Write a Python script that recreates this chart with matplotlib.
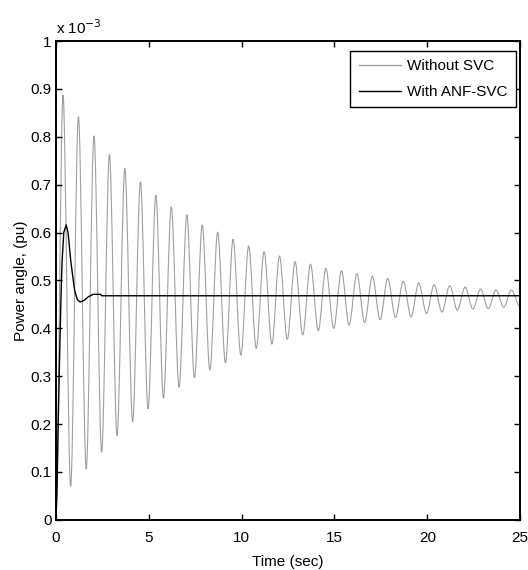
import matplotlib
matplotlib.use("Agg")
import matplotlib.pyplot as plt
from matplotlib.path import Path
from matplotlib.patches import PathPatch

plt.rcParams['font.family'] = ['Liberation Sans', 'DejaVu Sans']

# values, in units of 1e-3 pu
peak_t = [0.38, 1.21, 2.05, 2.88, 3.71, 4.55, 5.38, 6.21, 7.05, 7.88,
          8.71, 9.54, 10.38, 11.21, 12.04, 12.88, 13.71, 14.54, 15.38, 16.21,
          17.04, 17.87, 18.71, 19.54, 20.37, 21.21, 22.04, 22.87, 23.70, 24.53]
peak_v = [0.887, 0.842, 0.802, 0.763, 0.734, 0.706, 0.678, 0.654, 0.637, 0.616,
          0.601, 0.586, 0.572, 0.560, 0.551, 0.539, 0.534, 0.525, 0.520, 0.514,
          0.509, 0.504, 0.498, 0.495, 0.491, 0.489, 0.486, 0.482, 0.480, 0.480]
trough_t = [0.79, 1.63, 2.46, 3.29, 4.13, 4.96, 5.79, 6.63, 7.46, 8.29,
            9.13, 9.96, 10.79, 11.63, 12.46, 13.29, 14.13, 14.96, 15.79, 16.63,
            17.46, 18.29, 19.13, 19.96, 20.79, 21.62, 22.46, 23.29, 24.12]
trough_v = [0.070, 0.106, 0.141, 0.176, 0.205, 0.232, 0.254, 0.277, 0.297, 0.313,
            0.328, 0.344, 0.358, 0.367, 0.377, 0.386, 0.395, 0.400, 0.407, 0.412,
            0.418, 0.423, 0.424, 0.431, 0.434, 0.438, 0.440, 0.441, 0.444]
start_t, start_v = 0.0, 0.03
end_t, end_v = 25.0, 0.445

anf_t = [0.0, 0.05, 0.12, 0.2, 0.28, 0.33, 0.42, 0.55, 0.65, 0.8, 1.0, 1.15,
         1.3, 1.5, 1.75, 2.0, 2.4, 2.46, 25.0]
anf_v = [0.0, 0.05, 0.2, 0.35, 0.48, 0.54, 0.6, 0.616, 0.6, 0.54, 0.48, 0.46,
         0.455, 0.458, 0.466, 0.471, 0.471, 0.468, 0.468]

# gray series: start, then alternate peaks and troughs, then end point
no_svc_t = [start_t]
no_svc_v = [start_v]
for i in range(len(peak_t)):
    no_svc_t.append(peak_t[i])
    no_svc_v.append(peak_v[i])
    if i < len(trough_t):
        no_svc_t.append(trough_t[i])
        no_svc_v.append(trough_v[i])
no_svc_t.append(end_t)
no_svc_v.append(end_v)

# smooth swing between extremes (flat tangent at each peak / trough)
verts = [(no_svc_t[0], no_svc_v[0])]
codes = [Path.MOVETO]
for i in range(1, len(no_svc_t)):
    t0, v0 = no_svc_t[i - 1], no_svc_v[i - 1]
    t1, v1 = no_svc_t[i], no_svc_v[i]
    dt = (t1 - t0) / 3
    verts += [(t0 + dt, v0), (t1 - dt, v1), (t1, v1)]
    codes += [Path.CURVE4] * 3

fig = plt.figure(figsize=(5.28, 5.70), dpi=100)
ax = fig.add_axes([0.106, 0.088, 0.879, 0.840])

gray = '#a0a0a0'
ax.add_patch(PathPatch(Path(verts, codes), fill=False, edgecolor=gray, lw=0.8))
ax.plot([], [], color=gray, lw=1.0, label='Without SVC')
ax.plot(anf_t, anf_v, color='black', lw=1.0, label='With ANF-SVC')

ax.set_xlim(0, 25)
ax.set_ylim(0, 1)
ax.set_xticks([0, 5, 10, 15, 20, 25])
ax.set_yticks([0, 0.1, 0.2, 0.3, 0.4, 0.5, 0.6, 0.7, 0.8, 0.9, 1])
ax.set_yticklabels(['0', '0.1', '0.2', '0.3', '0.4', '0.5', '0.6', '0.7', '0.8', '0.9', '1'])
ax.tick_params(direction='in', length=4, width=1, top=True, right=True, labelsize=11)
ax.tick_params(axis='x', pad=8)
ax.tick_params(axis='y', pad=3)
for s in ax.spines.values():
    s.set_linewidth(1.4)

ax.set_xlabel('Time (sec)', fontsize=11, labelpad=7)
ax.set_ylabel('Power angle, (pu)', fontsize=11, labelpad=2)
ax.text(0.0, 1.008, 'x 10$^{-3}$', transform=ax.transAxes, fontsize=11, ha='left', va='bottom')

leg = ax.legend(loc='upper right', bbox_to_anchor=(0.991, 0.979), borderaxespad=0,
                fontsize=11, fancybox=False, framealpha=1, edgecolor='black',
                handlelength=2.75, borderpad=0.55, labelspacing=0.75, handletextpad=0.4)
leg.get_frame().set_linewidth(1.0)

fig.savefig('out.png', dpi=100)
